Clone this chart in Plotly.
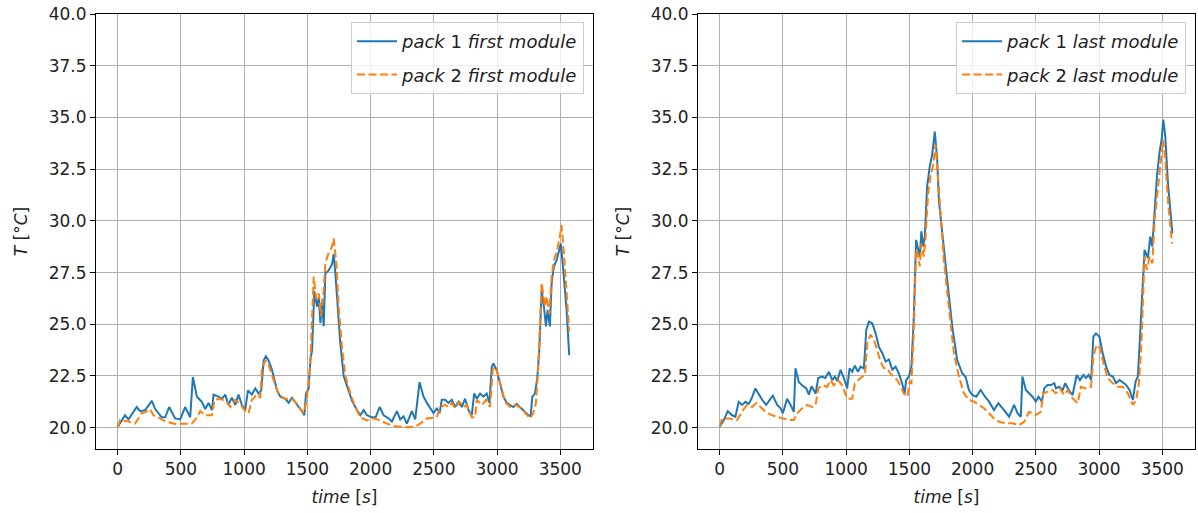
import plotly.graph_objects as go

# ---- data: pack1 / pack2, first module (left) ----
t_p1_first = [0, 58, 85, 150, 177, 216, 270, 296, 348, 375, 407, 454, 494, 533, 573, 594, 626, 665, 692, 718,
              745, 758, 797, 824, 850, 876, 902, 929, 955, 982, 1008, 1030, 1061, 1088, 1114, 1135, 1154, 1172,
              1193, 1220, 1260, 1286, 1325, 1352, 1378, 1404, 1431, 1457, 1476, 1489, 1510, 1524, 1537, 1555,
              1576, 1590, 1603, 1616, 1629, 1642, 1668, 1695, 1708, 1721, 1734, 1760, 1787, 1826, 1853, 1892,
              1918, 1945, 1971, 2010, 2040, 2071, 2103, 2142, 2168, 2208, 2234, 2260, 2287, 2326, 2353, 2387,
              2419, 2445, 2472, 2498, 2524, 2545, 2563, 2590, 2616, 2642, 2668, 2695, 2721, 2747, 2774, 2800,
              2819, 2840, 2866, 2892, 2918, 2940, 2958, 2971, 2997, 3024, 3050, 3077, 3103, 3129, 3155, 3182,
              3208, 3248, 3266, 3279, 3300, 3319, 3334, 3353, 3371, 3387, 3400, 3418, 3432, 3450, 3471, 3492,
              3505, 3524, 3550, 3571]
T_p1_first = [20.05, 20.6, 20.4, 21.0, 20.8, 20.85, 21.3, 20.9, 20.5, 20.5, 21.0, 20.45, 20.4, 21.0, 20.5, 22.45,
              21.5, 21.25, 20.9, 21.2, 20.85, 21.6, 21.5, 21.4, 21.6, 21.1, 21.45, 21.1, 21.6, 21.1, 20.85, 21.8,
              21.6, 21.9, 21.65, 21.8, 23.25, 23.45, 23.25, 22.8, 21.8, 21.5, 21.4, 21.2, 21.45, 21.2, 21.0, 20.8,
              20.6, 21.65, 21.9, 23.3, 23.75, 26.6, 25.85, 26.3, 25.05, 26.2, 24.9, 27.45, 27.6, 27.9, 28.4, 27.5,
              26.2, 24.1, 22.5, 21.8, 21.3, 20.85, 20.6, 20.85, 20.6, 20.5, 20.5, 21.0, 20.6, 20.45, 20.3, 20.8,
              20.4, 20.55, 20.2, 20.8, 20.4, 22.2, 21.5, 21.2, 20.95, 20.7, 20.95, 20.7, 21.35, 21.35, 21.2, 21.35,
              21.0, 21.25, 21.0, 21.4, 20.85, 20.6, 21.65, 21.4, 21.65, 21.5, 21.65, 21.2, 22.95, 23.1, 22.8,
              22.15, 21.5, 21.2, 21.1, 21.0, 21.15, 21.0, 20.85, 20.6, 20.55, 21.5, 21.65, 22.45, 23.75, 26.65,
              25.85, 24.9, 25.7, 24.9, 27.0, 27.8, 28.1, 28.6, 28.9, 27.6, 25.7, 23.5]

t_p2_first = [0, 18, 85, 137, 190, 216, 256, 282, 322, 375, 454, 533, 586, 626, 652, 692, 745, 766, 810, 863, 890,
              929, 968, 1008, 1035, 1061, 1101, 1127, 1140, 1167, 1193, 1233, 1272, 1325, 1378, 1404, 1444, 1471,
              1490, 1510, 1523, 1550, 1571, 1590, 1608, 1629, 1642, 1668, 1695, 1708, 1729, 1747, 1774, 1800,
              1840, 1879, 1918, 1971, 2024, 2076, 2129, 2182, 2234, 2287, 2353, 2392, 2445, 2498, 2524, 2550,
              2590, 2616, 2642, 2668, 2703, 2735, 2760, 2800, 2826, 2840, 2880, 2913, 2945, 2966, 2984, 3011,
              3037, 3063, 3103, 3142, 3182, 3221, 3261, 3287, 3308, 3326, 3353, 3379, 3392, 3413, 3432, 3450,
              3476, 3497, 3510, 3529, 3550, 3571]
T_p2_first = [20.0, 20.37, 20.3, 20.2, 20.7, 20.75, 20.9, 20.6, 20.5, 20.3, 20.18, 20.18, 20.2, 20.5, 20.8, 20.6,
              20.6, 21.35, 21.4, 21.25, 21.0, 21.35, 21.15, 20.8, 20.7, 21.35, 21.6, 21.45, 22.8, 23.27, 23.05,
              22.3, 21.6, 21.4, 21.4, 21.25, 20.95, 20.7, 21.2, 22.15, 23.1, 27.3, 26.2, 26.5, 25.4, 26.65, 27.95,
              28.45, 28.75, 29.15, 27.95, 25.85, 23.9, 22.5, 21.65, 21.0, 20.5, 20.35, 20.45, 20.35, 20.2, 20.08,
              20.05, 20.02, 20.05, 20.2, 20.45, 20.5, 20.5, 21.0, 21.1, 21.0, 21.2, 20.95, 21.25, 21.0, 21.1,
              20.5, 20.5, 21.35, 21.1, 21.35, 21.0, 22.8, 22.95, 22.5, 21.8, 21.25, 21.0, 21.1, 21.0, 20.7,
              20.45, 20.7, 21.2, 22.95, 27.0, 25.85, 26.35, 25.5, 27.3, 28.1, 28.6, 29.25, 29.8, 28.45, 26.5,
              24.65]

# ---- data: pack1 / pack2, last module (right) ----
t_p1_last = [0, 32, 63, 98, 124, 150, 177, 203, 229, 251, 282, 309, 335, 367, 393, 420, 454, 480, 499, 533, 560,
             586, 599, 626, 652, 684, 705, 726, 758, 779, 810, 836, 863, 890, 911, 929, 956, 982, 1008, 1027, 1048,
             1069, 1093, 1114, 1140, 1159, 1180, 1206, 1233, 1259, 1286, 1312, 1338, 1365, 1391, 1418, 1442, 1463,
             1474, 1495, 1516, 1534, 1553, 1569, 1582, 1595, 1608, 1622, 1640, 1661, 1680, 1701, 1720, 1733, 1759,
             1799, 1839, 1878, 1918, 1945, 1971, 1997, 2029, 2064, 2098, 2130, 2169, 2204, 2236, 2289, 2328, 2355,
             2381, 2394, 2421, 2447, 2474, 2500, 2521, 2548, 2566, 2593, 2619, 2646, 2659, 2685, 2712, 2733, 2760,
             2791, 2823, 2849, 2876, 2897, 2918, 2937, 2955, 2976, 3003, 3029, 3056, 3082, 3109, 3135, 3162, 3188,
             3215, 3241, 3268, 3289, 3307, 3320, 3334, 3360, 3387, 3405, 3421, 3440, 3458, 3479, 3495, 3508, 3524,
             3545, 3580]
T_p1_last = [20.05, 20.37, 20.8, 20.6, 20.53, 21.25, 21.1, 21.25, 21.15, 21.4, 21.9, 21.6, 21.35, 21.1, 21.35, 21.55,
             21.1, 20.95, 20.7, 21.4, 21.1, 20.77, 22.87, 22.2, 22.05, 21.9, 21.6, 22.0, 21.65, 22.4, 22.47, 22.4,
             22.7, 22.3, 22.47, 22.25, 22.8, 22.4, 21.9, 22.87, 22.7, 23.0, 22.7, 22.95, 22.87, 24.73, 25.13, 25.05,
             24.57, 23.9, 23.6, 23.2, 23.3, 22.8, 22.95, 22.6, 22.15, 21.66, 22.3, 22.45, 22.95, 25.2, 29.08, 28.68,
             28.27, 29.5, 28.76, 29.24, 31.66, 32.63, 33.2, 34.32, 32.95, 31.0, 29.4, 27.15, 24.9, 23.27, 22.63,
             22.45, 21.82, 21.58, 21.5, 21.82, 21.5, 21.26, 20.85, 21.18, 20.95, 20.53, 21.1, 20.7, 20.53, 22.47,
             21.82, 21.66, 21.5, 21.26, 21.5, 21.26, 21.9, 22.06, 22.06, 22.15, 21.9, 21.98, 21.82, 22.15, 21.82,
             21.58, 22.55, 22.3, 22.55, 22.4, 22.55, 22.3, 24.4, 24.56, 24.4, 23.6, 22.95, 22.55, 22.47, 22.15,
             22.3, 22.2, 22.06, 21.82, 21.34, 22.23, 22.47, 23.92, 25.53, 28.6, 28.2, 29.24, 28.76, 30.53, 32.15,
             33.35, 33.92, 34.89, 34.08, 31.82, 29.4]

t_p2_last = [0, 18, 71, 137, 190, 216, 256, 290, 322, 362, 414, 494, 546, 586, 612, 652, 692, 731, 758, 779, 810,
             850, 876, 903, 937, 968, 1008, 1048, 1069, 1114, 1148, 1167, 1193, 1220, 1246, 1272, 1299, 1325, 1352,
             1378, 1404, 1431, 1457, 1484, 1502, 1516, 1534, 1553, 1569, 1582, 1595, 1614, 1627, 1648, 1667, 1688,
             1706, 1720, 1746, 1773, 1812, 1852, 1892, 1931, 1971, 2011, 2050, 2090, 2130, 2169, 2209, 2262, 2315,
             2368, 2408, 2447, 2500, 2540, 2558, 2593, 2633, 2659, 2691, 2725, 2752, 2791, 2831, 2857, 2897, 2937,
             2955, 2981, 3008, 3035, 3069, 3109, 3149, 3188, 3228, 3268, 3294, 3315, 3334, 3360, 3379, 3400, 3421,
             3440, 3466, 3487, 3506, 3524, 3545, 3577]
T_p2_last = [20.05, 20.45, 20.45, 20.37, 20.9, 21.1, 21.0, 21.2, 21.0, 20.77, 20.6, 20.45, 20.37, 20.37, 20.7, 20.94,
             21.1, 21.0, 21.1, 21.9, 22.05, 21.98, 22.3, 22.05, 22.3, 22.05, 21.4, 21.4, 22.15, 22.4, 22.55, 24.1,
             24.5, 24.25, 23.7, 23.2, 22.87, 22.87, 22.6, 22.45, 22.3, 22.0, 21.65, 21.5, 22.2, 22.15, 24.56, 28.6,
             28.27, 27.8, 28.9, 28.27, 29.08, 31.34, 32.15, 32.7, 33.68, 32.63, 30.37, 28.1, 25.85, 23.6, 22.47,
             21.66, 21.34, 21.26, 21.1, 20.94, 20.7, 20.45, 20.29, 20.21, 20.21, 20.13, 20.29, 20.77, 20.61, 20.77,
             21.66, 21.74, 21.82, 21.66, 21.9, 21.58, 21.82, 21.42, 21.18, 21.98, 21.9, 21.98, 23.44, 24.0, 23.84,
             23.11, 22.39, 22.15, 21.98, 21.98, 21.66, 21.1, 21.34, 22.15, 23.92, 28.27, 27.63, 28.27, 27.95, 30.05,
             31.66, 32.95, 33.92, 32.95, 31.0, 28.9]

x_ticks = [0, 500, 1000, 1500, 2000, 2500, 3000, 3500]
y_ticks = [20.0, 22.5, 25.0, 27.5, 30.0, 32.5, 35.0, 37.5, 40.0]

BLUE = "#1f77b4"
ORANGE = "#ff7f0e"
FONT = "DejaVu Sans"
FS = 17
TXT = "#222222"

fig = go.Figure()

def add_pair(t1, v1, t2, v2, label, xa, ya, leg):
    fig.add_trace(go.Scatter(x=t1, y=v1, mode="lines", xaxis=xa, yaxis=ya, legend=leg,
                             legendgroup=leg + "a",
                             line=dict(color=BLUE, width=2),
                             name="<i>pack</i> 1 <i>" + label + "</i>"))
    fig.add_trace(go.Scatter(x=t2, y=v2, mode="lines", xaxis=xa, yaxis=ya, legend=leg,
                             legendgroup=leg + "b",
                             line=dict(color=ORANGE, width=2, dash="8px,3.5px"),
                             name="<i>pack</i> 2 <i>" + label + "</i>"))

add_pair(t_p1_first, T_p1_first, t_p2_first, T_p2_first, "first module", "x", "y", "legend")
add_pair(t_p1_last, T_p1_last, t_p2_last, T_p2_last, "last module", "x2", "y2", "legend2")

# page body margin is removed (post_script below), so figure coords = screen coords
W, H = 1198, 513
ml, mr, mt, mb = 96, 3, 14, 64
pw = W - ml - mr
ph = H - mt - mb
d1 = [0, 497 / pw]
d2 = [(698 - ml) / pw, 1.0]

axis_common = dict(showline=True, linecolor="black", linewidth=1, mirror=True,
                   ticks="outside", ticklen=5, tickwidth=1, tickcolor="black",
                   showgrid=True, gridcolor="#b0b0b0", gridwidth=1, zeroline=False,
                   automargin=False, ticklabeloverflow="allow",
                   tickfont=dict(family=FONT, size=FS, color=TXT))
xax = dict(axis_common, range=[-172, 3759], tickvals=x_ticks, ticktext=[str(v) for v in x_ticks],
           title=dict(text="<i>time</i> [<i>s</i>]", font=dict(family=FONT, size=FS, color=TXT), standoff=12))
yax = dict(axis_common, range=[18.97, 40.0005], tickvals=y_ticks, ticktext=["%.1f" % v for v in y_ticks],
           title=dict(text="<i>T</i> [°<i>C</i>]", font=dict(family=FONT, size=FS, color=TXT), standoff=16))

legend_common = dict(bgcolor="rgba(255,255,255,0.8)", bordercolor="#cccccc", borderwidth=1,
                     font=dict(family=FONT, size=18, color=TXT), xanchor="right", yanchor="top",
                     traceorder="grouped", tracegroupgap=7, itemwidth=40)

fig.update_layout(
    width=W, height=H,
    margin=dict(l=ml, r=mr, t=mt, b=mb),
    paper_bgcolor="white", plot_bgcolor="white",
    font=dict(family=FONT, size=FS, color=TXT),
    xaxis=dict(xax, domain=d1, anchor="y"),
    yaxis=dict(yax, domain=[0, 1], anchor="x"),
    xaxis2=dict(xax, domain=d2, anchor="y2"),
    yaxis2=dict(yax, domain=[0, 1], anchor="x2"),
    legend=dict(legend_common, x=(584 - ml) / pw, y=1 - (22 - mt) / ph),
    legend2=dict(legend_common, x=(1186 - ml) / pw, y=1 - (22 - mt) / ph),
    showlegend=True,
)

fig.write_html("out.html", config={"displayModeBar": False},
               post_script="document.body.style.margin='0px';")
